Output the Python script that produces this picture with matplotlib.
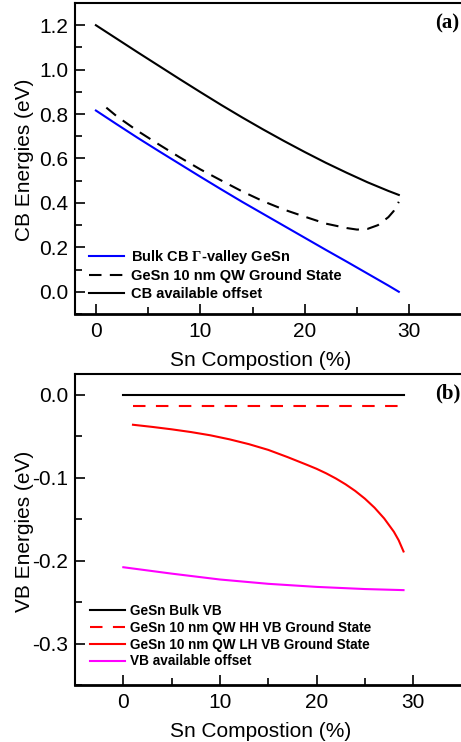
import matplotlib
matplotlib.use('Agg')
import matplotlib.pyplot as plt
from matplotlib.ticker import MultipleLocator

plt.rcParams['font.family'] = ['Liberation Sans', 'DejaVu Sans']
plt.rcParams['axes.unicode_minus'] = False
plt.rcParams['mathtext.fontset'] = 'custom'
plt.rcParams['mathtext.bf'] = 'Liberation Serif:bold'
plt.rcParams['mathtext.rm'] = 'Liberation Serif'

# conduction band (eV) vs Sn composition (%)
x_bulk = [0, 2, 4, 6, 8, 10, 12, 14, 16, 18, 20, 22, 24, 26, 28, 29]
cb_bulk = [0.816, 0.754, 0.693, 0.634, 0.576, 0.518, 0.461, 0.405, 0.351,
           0.297, 0.243, 0.189, 0.136, 0.082, 0.028, 0.000]
cb_offset = [1.200, 1.139, 1.078, 1.018, 0.958, 0.899, 0.841, 0.785, 0.731,
             0.679, 0.629, 0.581, 0.536, 0.493, 0.454, 0.436]

x_qw = [1, 2, 4, 6, 8, 10, 12, 14, 16, 18, 20, 22, 24, 25, 26, 27, 28, 28.5, 29]
cb_qw = [0.829, 0.790, 0.724, 0.664, 0.606, 0.551, 0.501, 0.452, 0.408,
         0.370, 0.338, 0.307, 0.287, 0.280, 0.283, 0.300, 0.336, 0.363, 0.405]

# valence band (eV)
x_vb = [0, 29]
vb_bulk = [0.0, 0.0]
x_hh = [1, 29]
vb_hh = [-0.0133, -0.0133]
x_lh = [1, 3, 5, 7, 9, 11, 13, 15, 17, 19, 20, 21, 22, 23, 24, 25, 26, 27,
        28, 28.5, 29]
vb_lh = [-0.0362, -0.0388, -0.0417, -0.0450, -0.0489, -0.0538, -0.0596,
         -0.0665, -0.0752, -0.0845, -0.0893, -0.0948, -0.1010, -0.1080,
         -0.1160, -0.1253, -0.1362, -0.1492, -0.1652, -0.1755, -0.1890]
x_off = [0, 5, 10, 15, 20, 25, 29]
vb_offset = [-0.208, -0.2157, -0.2228, -0.2280, -0.2317, -0.2343, -0.2356]

W, H = 461, 742
fig = plt.figure(figsize=(W / 100, H / 100), dpi=100)

def px_axes(left, top, right, bottom):
    return fig.add_axes([left / W, 1 - bottom / H, (right - left) / W, (bottom - top) / H])

ax1 = px_axes(75, 3, 461.5, 314)
ax2 = px_axes(75, 374, 461.5, 685)

lw = 1.5
ax1.plot(x_bulk, cb_bulk, color='#0000ff', lw=lw, label=r'Bulk CB $\mathbf{\Gamma}$-valley GeSn')
ax1.plot(x_qw, cb_qw, color='black', lw=lw, dashes=(6, 4), label='GeSn 10 nm QW Ground State')
ax1.plot(x_bulk, cb_offset, color='black', lw=lw, label='CB available offset')

ax2.plot(x_vb, vb_bulk, color='black', lw=lw, label='GeSn Bulk VB')
ax2.plot(x_hh, vb_hh, color='#ff0000', lw=lw, dashes=(6, 5), label='GeSn 10 nm QW HH VB Ground State')
ax2.plot(x_lh, vb_lh, color='#ff0000', lw=lw, label='GeSn 10 nm QW LH VB Ground State')
ax2.plot(x_off, vb_offset, color='#ff00ff', lw=lw, label='VB available offset')

ax1.set_xlim(-2, 35)
ax1.set_ylim(-0.1, 1.3)
ax1.yaxis.set_major_locator(MultipleLocator(0.2))
ax1.yaxis.set_minor_locator(MultipleLocator(0.1))
ax1.set_ylabel('CB Energies (eV)', fontsize=15)

ax2.set_xlim(-5, 35)
ax2.set_ylim(-0.35, 0.025)
ax2.yaxis.set_major_locator(MultipleLocator(0.1))
ax2.yaxis.set_minor_locator(MultipleLocator(0.05))
ax2.set_ylabel('VB Energies (eV)', fontsize=15)

for ax in (ax1, ax2):
    ax.xaxis.set_major_locator(MultipleLocator(10))
    ax.xaxis.set_minor_locator(MultipleLocator(5))
    ax.set_xlabel('Sn Compostion (%)', fontsize=15)
    ax.spines['right'].set_visible(False)
    ax.spines['left'].set_linewidth(1.5)
    ax.spines['bottom'].set_linewidth(2.0)
    ax.spines['top'].set_linewidth(1.5)
    ax.tick_params(which='both', direction='in', top=False, right=False, width=1.2, labelsize=15)
    ax.tick_params(which='major', length=7)
    ax.tick_params(which='minor', length=5)
    ax.tick_params(axis='x', pad=6)
    ax.tick_params(axis='y', pad=5)
    ax.xaxis.set_label_coords(0.479, -0.118)
    ax.yaxis.set_label_coords(-0.106, 0.495)

ax1.legend(loc='upper left', bbox_to_anchor=(0.036, 0.213), frameon=False,
           prop={'family': ['Liberation Sans', 'DejaVu Sans'], 'weight': 'bold', 'size': 10.5},
           handlelength=2.4, handletextpad=0.5, labelspacing=0.25, borderpad=0, borderaxespad=0)
ax2.legend(loc='upper left', bbox_to_anchor=(0.039, 0.26), frameon=False,
           prop={'family': ['Liberation Sans', 'DejaVu Sans'], 'weight': 'bold', 'size': 9.8},
           handlelength=2.6, handletextpad=0.3, labelspacing=0.2, borderpad=0, borderaxespad=0)

fig.text(459 / W, 1 - 23 / H, '(a)', ha='right', va='center', fontsize=15,
         family='Liberation Serif', weight='bold')
fig.text(460 / W, 1 - 393 / H, '(b)', ha='right', va='center', fontsize=15,
         family='Liberation Serif', weight='bold')

fig.savefig('out.png', dpi=100)
